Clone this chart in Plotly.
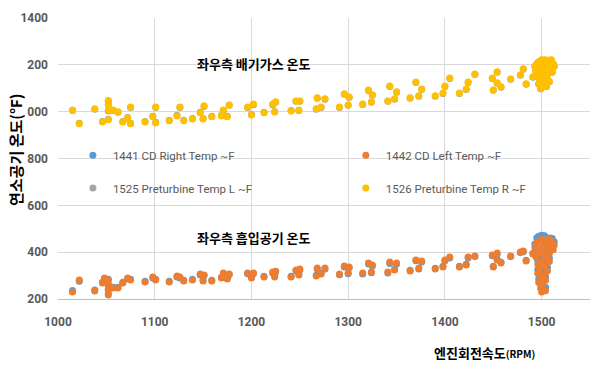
import plotly.graph_objects as go

# ---- data ----
exh_x = [1015, 1022, 1038, 1046, 1052, 1052, 1052, 1052, 1057, 1062, 1067, 1072, 1075, 1075,
         1090, 1098, 1101, 1101, 1115, 1123, 1126, 1130, 1139, 1147, 1150, 1151, 1159, 1169,
         1171, 1175, 1177, 1196, 1200, 1202, 1213, 1222, 1224, 1225, 1241, 1246, 1249, 1250,
         1267, 1268, 1272, 1276, 1291, 1296, 1300, 1301, 1315, 1321, 1324, 1325, 1341, 1343,
         1348, 1350, 1364, 1370, 1373, 1376, 1390, 1398, 1400, 1405, 1415, 1422, 1424, 1431,
         1449, 1450, 1454, 1454, 1458, 1468, 1478, 1481, 1484, 1491,
         1493, 1494, 1495, 1496, 1497, 1497, 1498, 1499, 1499, 1500, 1501, 1502, 1503, 1503,
         1504, 1505, 1505, 1506, 1507, 1508, 1508, 1509, 1510, 1511, 1512, 1513, 1496, 1500,
         1504, 1510, 1501, 1498]
exh_r = [1007, 948, 1012, 956, 1048, 1030, 1005, 965, 1007, 1000, 956, 973, 1020, 948,
         956, 978, 1020, 952, 961, 982, 1020, 961, 969, 995, 969, 1025, 978, 982,
         1007, 978, 1029, 1020, 986, 1033, 995, 1033, 999, 1042, 1003, 1046, 1007, 1046,
         1012, 1059, 1020, 1055, 1020, 1076, 1029, 1063, 1033, 1093, 1042, 1072, 1046, 1110,
         1055, 1085, 1059, 1127, 1068, 1097, 1068, 1080, 1110, 1144, 1080, 1097, 1127, 1161,
         1144, 1093, 1170, 1123, 1106, 1140, 1157, 1183, 1119, 1149,
         1195, 1175, 1205, 1150, 1120, 1185, 1215, 1100, 1160, 1210, 1190, 1220, 1200, 1140,
         1180, 1110, 1215, 1160, 1200, 1220, 1130, 1190, 1210, 1170, 1205, 1195, 1210, 1222,
         1222, 1222, 1130, 1140]
exh_l = [1005, 950, 1010, 958, 1045, 1028, 1003, 968, 1005, 998, 958, 975, 1018, 950,
         958, 980, 1018, 955, 963, 985, 1018, 963, 971, 998, 971, 1022, 980, 985,
         1005, 980, 1027, 1018, 988, 1030, 998, 1030, 1001, 1040, 1005, 1044, 1005, 1044,
         1010, 1057, 1018, 1053, 1018, 1074, 1027, 1061, 1031, 1090, 1040, 1070, 1044, 1108,
         1053, 1083, 1057, 1125, 1066, 1095, 1066, 1078, 1108, 1142, 1078, 1095, 1125, 1159,
         1142, 1091, 1168, 1121, 1104, 1138, 1155, 1181, 1117, 1147,
         1193, 1173, 1203, 1148, 1118, 1183, 1213, 1098, 1158, 1208, 1188, 1218, 1198, 1138,
         1178, 1108, 1213, 1158, 1198, 1218, 1128, 1188, 1208, 1168, 1203, 1193, 1208, 1220,
         1220, 1220, 1128, 1138]

int_x = [1015, 1022, 1038, 1046, 1048, 1052, 1052, 1052, 1052, 1057, 1062, 1067, 1072, 1075,
         1090, 1098, 1101, 1115, 1123, 1126, 1130, 1139, 1147, 1150, 1151, 1159, 1169, 1171,
         1175, 1177, 1196, 1200, 1202, 1213, 1222, 1224, 1225, 1241, 1246, 1249, 1250,
         1267, 1268, 1272, 1276, 1291, 1296, 1300, 1301, 1315, 1321, 1324, 1325, 1341, 1343,
         1348, 1350, 1364, 1370, 1373, 1376, 1390, 1398, 1400, 1405, 1415, 1422, 1424, 1431,
         1449, 1450, 1454, 1454, 1458, 1468, 1478, 1481, 1484, 1491,
         1493, 1494, 1495, 1496, 1496, 1497, 1497, 1498, 1498, 1499, 1499, 1500, 1500, 1501,
         1501, 1502, 1502, 1503, 1503, 1504, 1505, 1505, 1506, 1507, 1508, 1509, 1510, 1511,
         1512, 1513, 1508, 1506, 1500, 1504]
int_l = [230, 281, 234, 268, 290, 281, 260, 238, 217, 247, 247, 268, 290, 281,
         273, 294, 281, 273, 298, 294, 277, 281, 307, 277, 303, 277, 290, 311,
         285, 307, 311, 290, 311, 294, 315, 294, 319, 294, 324, 303, 328,
         298, 332, 307, 332, 307, 341, 311, 337, 311, 354, 315, 345, 315, 358,
         324, 354, 320, 367, 332, 362, 328, 337, 367, 379, 337, 345, 379, 384,
         388, 337, 396, 367, 354, 384, 401, 405, 362, 392,
         420, 380, 440, 350, 310, 400, 270, 450, 330, 290, 245, 420, 360, 260,
         455, 390, 300, 340, 430, 235, 450, 375, 410, 440, 395, 455, 420, 440,
         410, 430, 360, 320, 230, 280]
int_r = [236, 276, 238, 272, 286, 284, 264, 242, 222, 250, 250, 272, 286, 284,
         276, 290, 284, 276, 294, 290, 280, 284, 303, 280, 300, 280, 293, 308,
         288, 304, 308, 293, 308, 297, 311, 297, 315, 297, 320, 306, 324,
         301, 328, 310, 328, 304, 337, 308, 333, 307, 350, 312, 341, 311, 352,
         327, 350, 323, 363, 328, 358, 331, 340, 363, 375, 340, 348, 375, 381,
         385, 340, 392, 370, 357, 381, 398, 402, 365, 395,
         435, 395, 462, 365, 325, 468, 285, 455, 345, 305, 260, 472, 375, 275,
         470, 405, 315, 355, 470, 250, 462, 390, 425, 458, 410, 460, 435, 458,
         425, 445, 375, 335, 245, 295]

x_ticks = [1000, 1100, 1200, 1300, 1400, 1500]
y_tickvals = [200, 400, 600, 800, 1000, 1200, 1400]
y_ticktext = ["200", "400", "600", "800", "000", "200", "1400"]

names = ["1441 CD Right Temp ~F", "1442 CD Left Temp ~F",
         "1525 Preturbine Temp L ~F", "1526 Preturbine Temp R ~F"]
colors = ["#5B9BD5", "#ED7D31", "#A5A5A5", "#FFC000"]

fig = go.Figure()
series = [(int_x, int_r), (int_x, int_l), (exh_x, exh_l), (exh_x, exh_r)]
legend_ids = ["legend", "legend2", "legend3", "legend4"]
for (xs, ys), nm, c, lg in zip(series, names, colors, legend_ids):
    fig.add_trace(go.Scatter(x=xs, y=ys, mode="markers", name=nm, legend=lg,
                             showlegend=True, marker=dict(size=7, color=c)))

legend_font = dict(family="Roboto, sans-serif", size=11.5, color="#595959")
# legend placement (paper coords): left column / right column, upper / lower row
leg_pos = [(0.028, 0.512), (0.541, 0.512), (0.028, 0.395), (0.541, 0.395)]
leg_layout = {}
for lg, (lx, ly) in zip(legend_ids, leg_pos):
    leg_layout[lg] = dict(x=lx, y=ly, xanchor="left", yanchor="middle",
                          font=legend_font, bgcolor="rgba(0,0,0,0)", itemwidth=30)

tick_font = dict(family="Roboto, sans-serif", size=12, color="#595959", weight="bold")
fig.update_layout(
    width=593, height=367,
    showlegend=True,
    margin=dict(l=58, r=3, t=18, b=68),
    paper_bgcolor="white", plot_bgcolor="white",
    font=dict(family="Noto Sans CJK KR, Noto Sans, sans-serif"),
    xaxis=dict(range=[1000, 1550], tickvals=x_ticks, showgrid=True, gridcolor="#D9D9D9",
               zeroline=False, showline=True, linecolor="#BFBFBF", ticks="",
               tickfont=tick_font, ticklabelstandoff=12),
    yaxis=dict(range=[200, 1400], tickvals=y_tickvals, ticktext=y_ticktext, showgrid=True,
               gridcolor="#D9D9D9", zeroline=False, showline=False, ticks="",
               tickfont=tick_font, ticklabelstandoff=9),
    annotations=[
        dict(text="<b>좌우측 배기가스 온도</b>", x=1203, y=1204, xref="x", yref="y",
             xanchor="center", showarrow=False, font=dict(size=13, color="black")),
        dict(text="<b>좌우측 흡입공기 온도</b>", x=1203, y=461, xref="x", yref="y",
             xanchor="center", showarrow=False, font=dict(size=13, color="black")),
        dict(text="<b>연소공기 온도(°F)</b>", x=-0.081, y=0.53, xref="paper", yref="paper",
             xanchor="center", yanchor="middle",
             textangle=-90, showarrow=False, font=dict(size=15, color="black")),
        dict(text="<b>엔진회전속도<span style='font-size:10px'>(RPM)</span></b>",
             x=0.8026, y=-0.189, xref="paper", yref="paper", xanchor="center",
             yanchor="middle", showarrow=False, font=dict(size=13, color="black")),
    ],
    **leg_layout,
)

fig.write_html("out.html", post_script="document.body.style.margin='0';",
               config={"displayModeBar": False})
